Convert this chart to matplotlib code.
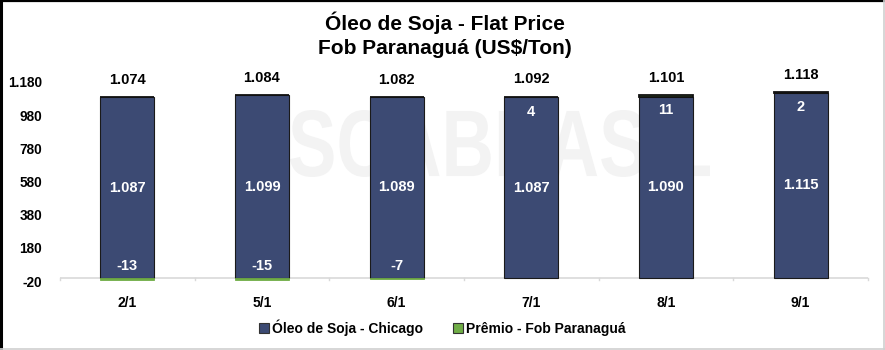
import matplotlib
matplotlib.use("Agg")
import matplotlib.pyplot as plt
from matplotlib.patches import Rectangle, PathPatch
from matplotlib.textpath import TextPath
from matplotlib.font_manager import FontProperties
from matplotlib.transforms import Affine2D
from matplotlib.lines import Line2D

# Data
categories = ["2/1", "5/1", "6/1", "7/1", "8/1", "9/1"]
chicago = [1087, 1099, 1089, 1087, 1090, 1115]
premio = [-13, -15, -7, 4, 11, 2]
totals = [1074, 1084, 1082, 1092, 1101, 1118]
yticks = [-20, 180, 380, 580, 780, 980, 1180]

plt.rcParams["font.family"] = ["Liberation Sans", "DejaVu Sans"]


def fmt(v):
    s = f"{abs(v):,}".replace(",", ".")
    return ("-" if v < 0 else "") + s


blue = "#3C4A73"
green = "#70AD47"
W, H = 885, 350

fig = plt.figure(figsize=(8.85, 3.5), dpi=100)
ax = fig.add_axes([60 / W, 0.197, 808 / W, 0.569])

x = list(range(len(categories)))
w = 0.4
pos_p = [max(p, 0) for p in premio]
neg_p = [min(p, 0) for p in premio]

ax.bar(x, chicago, width=w, color=blue, edgecolor="#1a1a1a", linewidth=0.8, zorder=3)
ax.bar(x, pos_p, bottom=chicago, width=w, color=green, edgecolor="#111111",
       linewidth=1.3, zorder=3)
ax.bar(x, neg_p, width=w, color=green,
       edgecolor=[green if p < 0 else "none" for p in premio], linewidth=0.6, zorder=4)

# faint watermark behind the bars
tp = TextPath((0, 0), "SCABRASIL", prop=FontProperties(family="Liberation Sans", weight="bold"))
ext = tp.get_extents()
sx = (420 / W) / ext.width
sy = (67 / H) / ext.height
tr = Affine2D().translate(-ext.x0, -ext.y0).scale(sx, sy).translate(290 / W, (H - 177) / H)
wm = PathPatch(tp, facecolor="#f3f3f3", edgecolor="none", transform=tr + fig.transFigure,
               zorder=0.5, clip_on=False)
ax.add_artist(wm)

lab = dict(fontsize=10.5, fontweight="bold", ha="center", va="center", zorder=5)
for i in x:
    ax.text(i, chicago[i] / 2, fmt(chicago[i]), color="white", **lab)
    if premio[i] >= 0:
        ax.text(i, chicago[i] + premio[i] - 90, fmt(premio[i]), color="white", **lab)
    else:
        ax.text(i, 70, fmt(premio[i]), color="white", **lab)
    ax.text(i, chicago[i] + max(premio[i], 0) + 105, fmt(totals[i]), color="black", **lab)

ax.set_xlim(-0.5, len(categories) - 0.5)
ax.set_ylim(-20, 1180)
ax.set_yticks(yticks)
ax.set_yticklabels([fmt(v) for v in yticks], fontsize=9.8, fontweight="bold")
ax.set_xticks(x)
ax.set_xticklabels(categories, fontsize=10, fontweight="bold")
ax.tick_params(axis="y", length=0, pad=13)
ax.tick_params(axis="x", length=0, pad=11)
for s in ["top", "right", "left", "bottom"]:
    ax.spines[s].set_visible(False)

# category axis at zero with boundary ticks
ax.axhline(0, color="#d9d9d9", lw=1.2, zorder=1)
for b in [i - 0.5 for i in range(len(categories) + 1)]:
    ax.plot([b, b], [-16, 0], color="#d9d9d9", lw=1.0, clip_on=False, zorder=1)

fig.text(0.503, 0.935, "Óleo de Soja - Flat Price", fontsize=15, fontweight="bold",
         ha="center", va="center")
fig.text(0.503, 0.862, "Fob Paranaguá (US$/Ton)", fontsize=15, fontweight="bold",
         ha="center", va="center")

# legend
handles = [Rectangle((0, 0), 1, 1, facecolor=blue, edgecolor="#333333", lw=0.8),
           Rectangle((0, 0), 1, 1, facecolor=green, edgecolor="#333333", lw=0.8)]
fig.legend(handles, ["Óleo de Soja - Chicago", "Prêmio - Fob Paranaguá"],
           loc="center", bbox_to_anchor=(0.5, 0.063), ncol=2, frameon=False,
           prop={"size": 10, "weight": "bold"}, handlelength=0.7, handleheight=0.7,
           handletextpad=0.2, columnspacing=2.2)

# outer frame: dark top/left, light right/bottom
fig.add_artist(Line2D([0.5 / W, 0.5 / W], [0, 1], color="black", lw=2.2))
fig.add_artist(Line2D([0, 1], [1 - 0.8 / H, 1 - 0.8 / H], color="black", lw=1.6))
fig.add_artist(Line2D([1 - 1.5 / W, 1 - 1.5 / W], [0, 1], color="#d0d0d0", lw=1.2))
fig.add_artist(Line2D([0, 1], [1.5 / H, 1.5 / H], color="#d0d0d0", lw=1.2))

fig.savefig("out.png", dpi=100)
